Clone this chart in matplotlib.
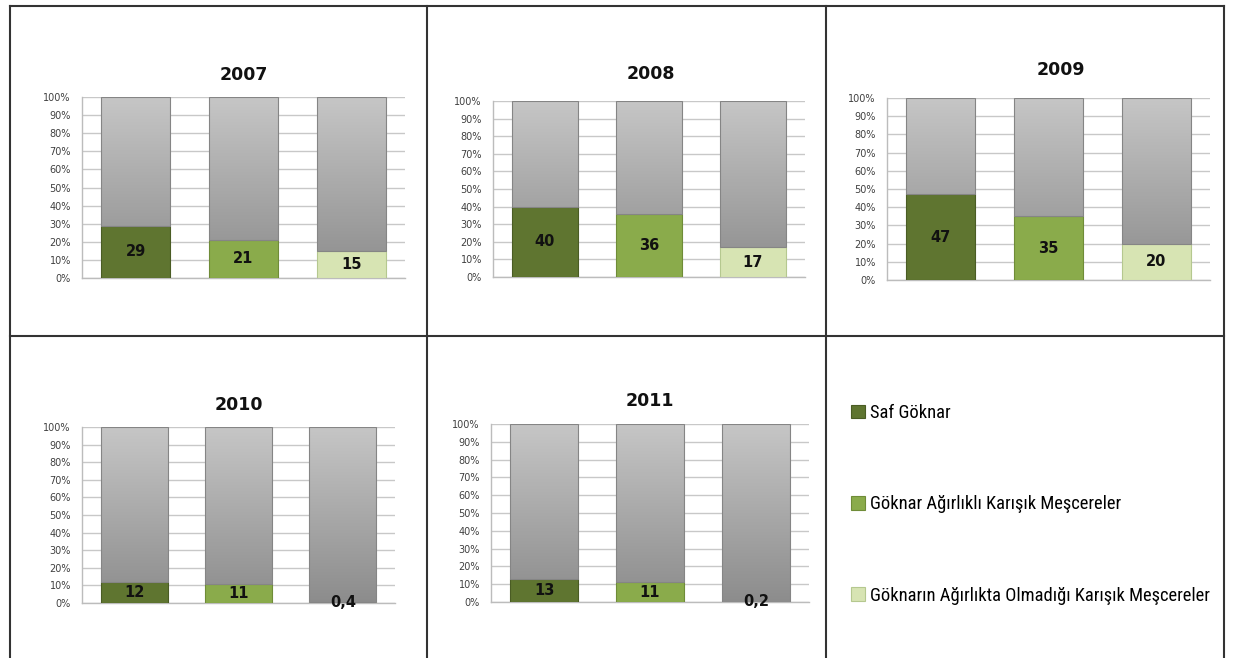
import numpy as np
import matplotlib
matplotlib.use("Agg")
import matplotlib.pyplot as plt
from matplotlib import font_manager
from matplotlib.colors import LinearSegmentedColormap
from matplotlib.lines import Line2D
from matplotlib.ticker import PercentFormatter

W, H = 1237, 658

years = ["2007", "2008", "2009", "2010", "2011"]
series_names = ["Saf Göknar",
                "Göknar Ağırlıklı Karışık Meşcereler",
                "Göknarın Ağırlıkta Olmadığı Karışık Meşcereler"]
saf_goknar = [29, 40, 47, 12, 13]
goknar_agirlikli = [21, 36, 35, 11, 11]
goknar_olmayan = [15, 17, 20, 0.4, 0.2]

greens = ["#5f7530", "#8aab4b", "#d7e4b3"]
green_edges = ["#4a5c24", "#6f8c38", "#b5c88f"]

# plot area in pixels (left, top, right, bottom) and title centre (x, y)
panels = [
    (82, 97, 405, 278, 244, 75),
    (493, 101, 805, 277, 651, 74),
    (887, 98, 1210, 280, 1061, 70),
    (82, 427, 395, 603, 239, 405),
    (491, 424, 809, 602, 650, 401),
]

# pick a narrow face for the legend if one is installed
fonts = font_manager.fontManager.ttflist
legend_prop = font_manager.FontProperties(family="Open Sans")
for f in fonts:
    if f.stretch in ("condensed", "semi-condensed", "extra-condensed") \
            and f.style == "normal" and f.weight in (400, "normal", "regular"):
        legend_prop = font_manager.FontProperties(fname=f.fname)
        break
for name in ("Liberation Sans Narrow", "Roboto Condensed", "Open Sans Condensed"):
    if name in {f.name for f in fonts}:
        legend_prop = font_manager.FontProperties(family=name)
        break

fig = plt.figure(figsize=(W / 100, H / 100), dpi=100)
fig.patch.set_facecolor("white")

gray_cmap = LinearSegmentedColormap.from_list("bargray", ["#8c8c8c", "#c6c6c6"])
gradient = np.linspace(0, 1, 256).reshape(-1, 1)


def fmt(v):
    return ("%g" % v).replace(".", ",")


legend_handles = None
for i, year in enumerate(years):
    l, t, r, b, tx, ty = panels[i]
    ax = fig.add_axes([l / W, 1 - b / H, (r - l) / W, (b - t) / H])
    vals = [saf_goknar[i], goknar_agirlikli[i], goknar_olmayan[i]]
    rest = [100 - v for v in vals]
    x = np.arange(3)

    green_bars = ax.bar(x, vals, 0.64, color=greens, edgecolor=green_edges,
                        linewidth=0.8, zorder=3)
    gray_bars = ax.bar(x, rest, 0.64, bottom=vals, color="#a8a8a8",
                       linewidth=0, zorder=3)
    for p in gray_bars:
        im = ax.imshow(gradient, cmap=gray_cmap, origin="lower", aspect="auto",
                       extent=(p.get_x(), p.get_x() + p.get_width(), 0, 100),
                       zorder=3.2, interpolation="bicubic")
        im.set_clip_path(p)
    ax.bar(x, rest, 0.64, bottom=vals, fill=False, edgecolor="#858585",
           linewidth=0.8, zorder=4)
    if legend_handles is None:
        legend_handles = list(green_bars)

    for j in x:
        ax.text(j, vals[j] / 2, fmt(vals[j]), ha="center", va="center",
                fontsize=10.5, fontweight="bold", color="#111111", zorder=5)

    ax.set_xlim(-0.5, 2.5)
    ax.set_ylim(0, 100)
    ax.set_yticks(range(0, 101, 10))
    ax.yaxis.set_major_formatter(PercentFormatter(decimals=0))
    ax.set_xticks([])
    ax.grid(axis="y", color="#c8c8c8", linewidth=1.0)
    ax.set_axisbelow(True)
    for side in ("top", "right"):
        ax.spines[side].set_visible(False)
    for side in ("left", "bottom"):
        ax.spines[side].set_color("#bcbcbc")
        ax.spines[side].set_linewidth(1.0)
    ax.tick_params(axis="y", length=0, pad=8, labelsize=7, labelcolor="#404040")

    fig.text(tx / W, 1 - ty / H, year, ha="center", va="center",
             fontsize=12.5, fontweight="bold", color="#111111")

# size the legend font so the longest label is ~343 px wide, as in the picture
renderer = fig.canvas.get_renderer()
legend_prop.set_size(14)
probe = fig.text(0, 0, series_names[2], fontproperties=legend_prop)
w14 = probe.get_window_extent(renderer).width
probe.remove()
legend_prop.set_size(min(16, 14 * 343 / w14))
fs = legend_prop.get_size_in_points()
row_px = 96.5
spacing = (row_px - 1.25 * fs * 100 / 72) / (fs * 100 / 72)

fig.legend(handles=legend_handles, labels=series_names, loc="upper left",
           bbox_to_anchor=(851 / W, 1 - 404 / H), frameon=False,
           prop=legend_prop, handlelength=0.75, handleheight=0.75,
           handletextpad=0.3, labelspacing=spacing, borderaxespad=0, borderpad=0)

# table grid around the charts
line_kw = dict(color="#333333", linewidth=1.5, transform=None)
for xp in (10, 427, 826, 1224):
    fig.add_artist(Line2D([xp, xp], [H - 6, -2], **line_kw))
for yp in (6, 336):
    fig.add_artist(Line2D([10, 1224], [H - yp, H - yp], **line_kw))

fig.savefig("out.png", dpi=100)
